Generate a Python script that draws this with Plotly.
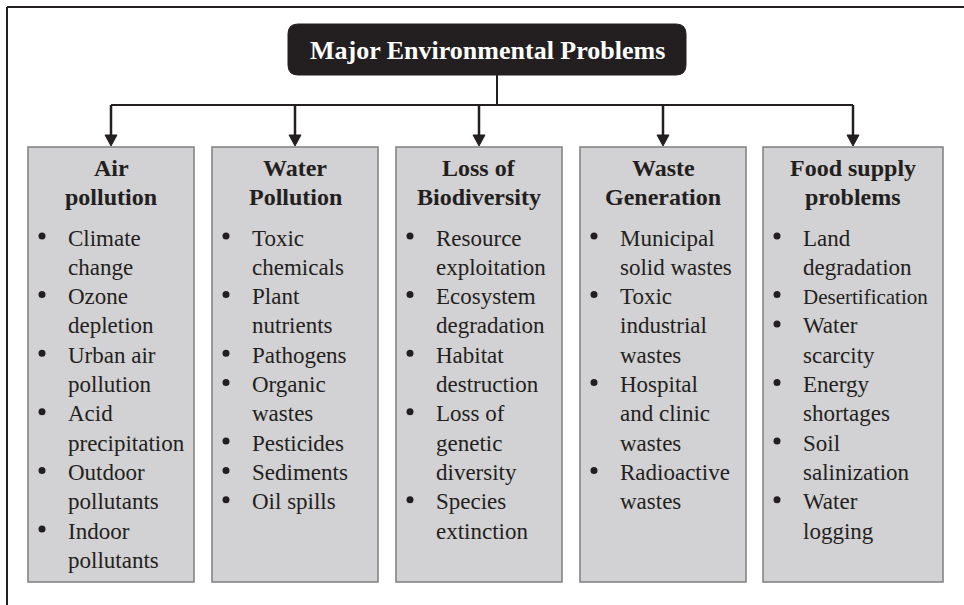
import plotly.graph_objects as go

W, H = 964, 605
TITLE = "Major Environmental Problems"
HEADERS = [["Air", "pollution"], ["Water", "Pollution"], ["Loss of", "Biodiversity"],
           ["Waste", "Generation"], ["Food supply", "problems"]]
ITEMS = [
    [["Climate", "change"], ["Ozone", "depletion"], ["Urban air", "pollution"],
     ["Acid", "precipitation"], ["Outdoor", "pollutants"], ["Indoor", "pollutants"]],
    [["Toxic", "chemicals"], ["Plant", "nutrients"], ["Pathogens"], ["Organic", "wastes"],
     ["Pesticides"], ["Sediments"], ["Oil spills"]],
    [["Resource", "exploitation"], ["Ecosystem", "degradation"], ["Habitat", "destruction"],
     ["Loss of", "genetic", "diversity"], ["Species", "extinction"]],
    [["Municipal", "solid wastes"], ["Toxic", "industrial", "wastes"],
     ["Hospital", "and clinic", "wastes"], ["Radioactive", "wastes"]],
    [["Land", "degradation"], ["Desertification"], ["Water", "scarcity"], ["Energy", "shortages"],
     ["Soil", "salinization"], ["Water", "logging"]],
]
SMALL = {"Desertification"}

# layout geometry (pixels)
box_left = [28, 212, 396, 580, 763]
box_w = [166, 166, 166, 166, 180]
box_top, box_bot = 147, 582
bar_y = 105
tb = dict(x0=288, x1=686, y0=24, y1=75, r=10)
serif = "Liberation Serif"
ink = "#231f20"

fig = go.Figure()
shapes = []
ann = []

# outer frame
shapes.append(dict(type="line", x0=7, x1=W + 5, y0=7, y1=7, line=dict(color=ink, width=2)))
shapes.append(dict(type="line", x0=7, x1=7, y0=7, y1=H + 5, line=dict(color=ink, width=2)))

# title box rounded
x0, x1, y0, y1, r = tb["x0"], tb["x1"], tb["y0"], tb["y1"], tb["r"]
path = (f"M{x0+r},{y0} L{x1-r},{y0} Q{x1},{y0} {x1},{y0+r} L{x1},{y1-r} Q{x1},{y1} {x1-r},{y1} "
        f"L{x0+r},{y1} Q{x0},{y1} {x0},{y1-r} L{x0},{y0+r} Q{x0},{y0} {x0+r},{y0} Z")
shapes.append(dict(type="path", path=path, fillcolor=ink, line=dict(color=ink, width=1)))
ann.append(dict(x=(x0 + x1) / 2, y=(y0 + y1) / 2 + 1, text=f"<b>{TITLE}</b>", showarrow=False,
                font=dict(family=serif, size=26, color="white"), xanchor="center", yanchor="middle"))

centers = [l + w / 2 for l, w in zip(box_left, box_w)]
shapes.append(dict(type="line", x0=497, x1=497, y0=y1, y1=bar_y, line=dict(color=ink, width=2)))
shapes.append(dict(type="line", x0=centers[0], x1=centers[-1], y0=bar_y, y1=bar_y,
                   line=dict(color=ink, width=2)))

bul_x, bul_y = [], []
for i, (hdr, items) in enumerate(zip(HEADERS, ITEMS)):
    cx = centers[i]
    shapes.append(dict(type="line", x0=cx, x1=cx, y0=bar_y, y1=box_top - 10, line=dict(color=ink, width=2.5)))
    shapes.append(dict(type="path", path=f"M{cx-6},{box_top-12} L{cx+6},{box_top-12} L{cx},{box_top-1} Z",
                       fillcolor=ink, line=dict(color=ink, width=1)))
    L = box_left[i]
    shapes.append(dict(type="rect", x0=L, x1=L + box_w[i], y0=box_top, y1=box_bot,
                       fillcolor="#d2d1d3", line=dict(color="#7f7f7f", width=1.5), layer="below"))
    for k, h in enumerate(hdr):
        ann.append(dict(x=cx, y=168 + k * 29.3, text=f"<b>{h}</b>", showarrow=False,
                        font=dict(family=serif, size=24, color=ink), xanchor="center", yanchor="middle"))
    line_no = 0
    for item in items:
        bul_x.append(L + 14)
        bul_y.append(236 + line_no * 29.3)
        for t in item:
            ann.append(dict(x=L + 38, y=238 + line_no * 29.3, text=t, showarrow=False,
                            font=dict(family=serif, size=21 if t in SMALL else 23, color=ink),
                            xanchor="left", yanchor="middle"))
            line_no += 1

fig.add_trace(go.Scatter(x=bul_x, y=bul_y, mode="markers",
                         marker=dict(size=7, color=ink), hoverinfo="skip", showlegend=False))

fig.update_layout(width=W, height=H, margin=dict(l=0, r=0, t=0, b=0),
                  paper_bgcolor="white", plot_bgcolor="white",
                  font=dict(family=serif),
                  shapes=shapes, annotations=ann, showlegend=False,
                  xaxis=dict(range=[0, W], visible=False, fixedrange=True),
                  yaxis=dict(range=[H, 0], visible=False, fixedrange=True))
fig.write_html("out.html", config={"displayModeBar": False},
               post_script="document.body.style.margin='0';document.body.style.overflow='hidden';")
